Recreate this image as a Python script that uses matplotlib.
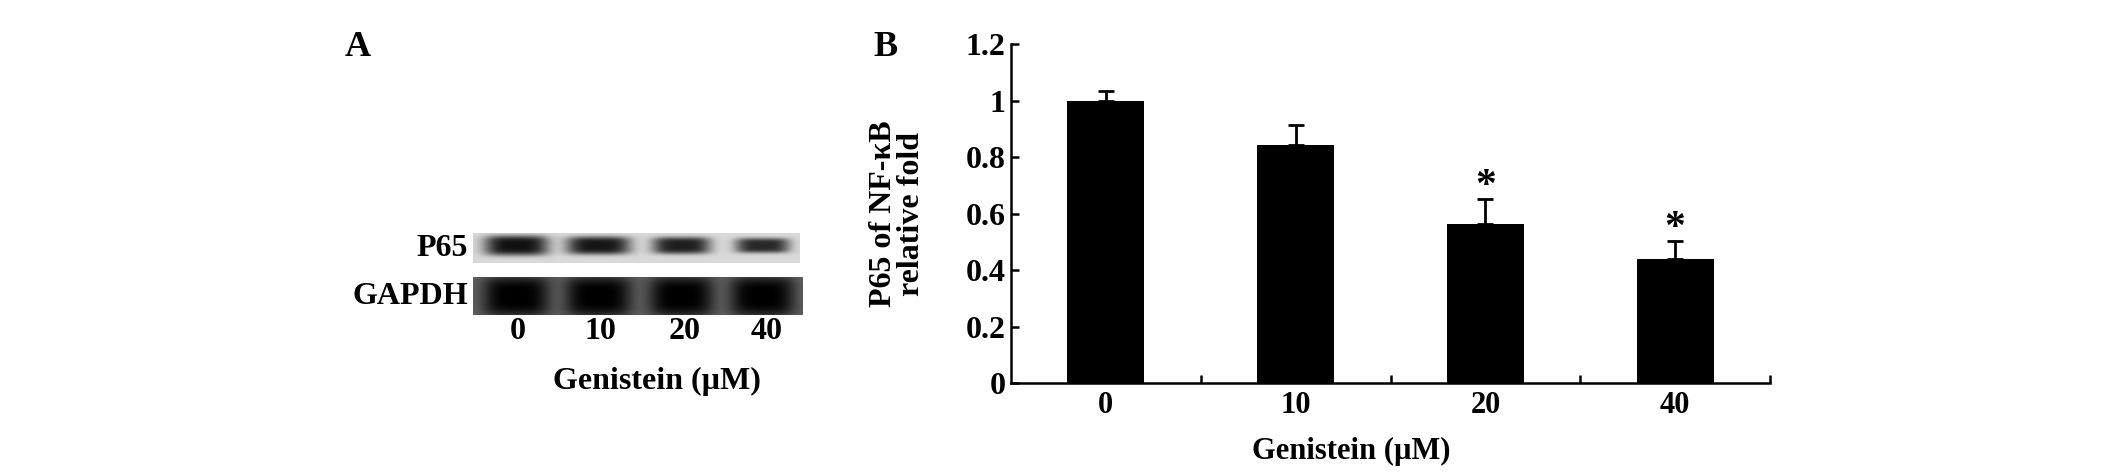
import numpy as np
import matplotlib
matplotlib.use("Agg")
import matplotlib.pyplot as plt

plt.rcParams['font.family'] = ['Liberation Serif', 'DejaVu Serif']
plt.rcParams['font.weight'] = 'bold'
plt.rcParams['axes.labelweight'] = 'bold'

# panel B data
doses = ['0', '10', '20', '40']
fold = [1.0, 0.843, 0.562, 0.438]
fold_err = [0.032, 0.072, 0.089, 0.066]
signif = ['', '', '*', '*']
yticks = [0, 0.2, 0.4, 0.6, 0.8, 1.0, 1.2]
ytick_labels = ['0', '0.2', '0.4', '0.6', '0.8', '1', '1.2']

# panel A blot (band look per lane, arbitrary units)
blot_rows = ['P65', 'GAPDH']
p65_band_width = [64, 64, 58, 54]
p65_band_height = [20, 18, 17, 15]
p65_band_dark = [0.92, 0.9, 0.86, 0.82]
gapdh_band_width = [66, 66, 64, 64]
gapdh_band_dark = [1.0, 1.0, 1.0, 1.0]
lane_x = [516, 598, 681, 762]

W, H = 2125, 473
fig = plt.figure(figsize=(W / 100, H / 100), dpi=100)


def fx(x):
    return x / W


def fy(y):
    return 1 - y / H


# ---- panel A ----
fig.text(fx(358), fy(47), 'A', fontsize=26, ha='center', va='center')

bax = fig.add_axes([fx(473), fy(315), fx(803 - 473), (315 - 233) / H])
bax.set_xlim(473, 803)
bax.set_ylim(315, 233)
bax.axis('off')


def strip(x0, x1, y0, y1, bg, centers, widths, heights, darks, yc):
    xs = np.arange(x0, x1)
    ys = np.arange(y0, y1)
    X, Y = np.meshgrid(xs, ys)
    img = np.full(X.shape, bg, dtype=float)
    for c, w, h, d in zip(centers, widths, heights, darks):
        prof = np.exp(-(((X - c) / (w / 2)) ** 4 + ((Y - yc) / (h / 2)) ** 4))
        img = img * (1 - d * prof)
    bax.imshow(img, cmap='gray', vmin=0, vmax=1, extent=(x0, x1, y1, y0),
               aspect='auto', interpolation='bilinear')


strip(473, 800, 233, 263, 0.85, lane_x, p65_band_width, p65_band_height,
      p65_band_dark, 245)
strip(473, 803, 277, 315, 0.38, lane_x, gapdh_band_width, [40] * 4,
      gapdh_band_dark, 296)

fig.text(fx(468), fy(249), blot_rows[0], fontsize=23, ha='right', va='center')
fig.text(fx(468), fy(296), blot_rows[1], fontsize=23, ha='right', va='center')
for x, d in zip([518, 600, 685, 767], doses):
    fig.text(fx(x), fy(331), d, fontsize=23, ha='center', va='center')
fig.text(fx(657), fy(381), 'Genistein (µM)', fontsize=23, ha='center', va='center')

# ---- panel B ----
fig.text(fx(885), fy(47), 'B', fontsize=26, ha='center', va='center')

ax = fig.add_axes([fx(1011), fy(383), fx(1770 - 1011), (383 - 44) / H])
pos = np.arange(len(doses))
ax.bar(pos, fold, width=0.405, color='black')
ax.errorbar(pos, fold, yerr=[np.zeros(len(fold)), fold_err], fmt='none',
            ecolor='black', elinewidth=2, capsize=6, capthick=2)
for p, v, e, s in zip(pos, fold, fold_err, signif):
    if s:
        ax.text(p, v + e - 0.025, s, fontsize=30, ha='center', va='bottom')

ax.set_xlim(-0.5, 3.5)
ax.set_ylim(0, 1.2)
ax.spines['top'].set_visible(False)
ax.spines['right'].set_visible(False)
for sp in ['left', 'bottom']:
    ax.spines[sp].set_linewidth(1.8)

ax.set_xticks(pos)
ax.set_xticklabels(doses, fontsize=22)
ax.set_xticks(pos + 0.5, minor=True)
ax.tick_params(axis='x', which='major', length=0, pad=6)
ax.tick_params(axis='x', which='minor', direction='in', length=6, width=1.8)
ax.set_yticks(yticks)
ax.set_yticklabels(ytick_labels, fontsize=23)
ax.tick_params(axis='y', direction='in', length=6, width=1.8, pad=4)

ax.set_ylabel('P65 of NF-κB\nrelative fold', fontsize=23, linespacing=0.95,
              fontweight='bold')
ax.yaxis.set_label_coords(-0.112, 0.5)
ax.set_xlabel('Genistein (µM)', fontsize=22, fontweight='bold')
ax.xaxis.set_label_coords(0.448, -0.16)

fig.savefig('out.png', dpi=100)
